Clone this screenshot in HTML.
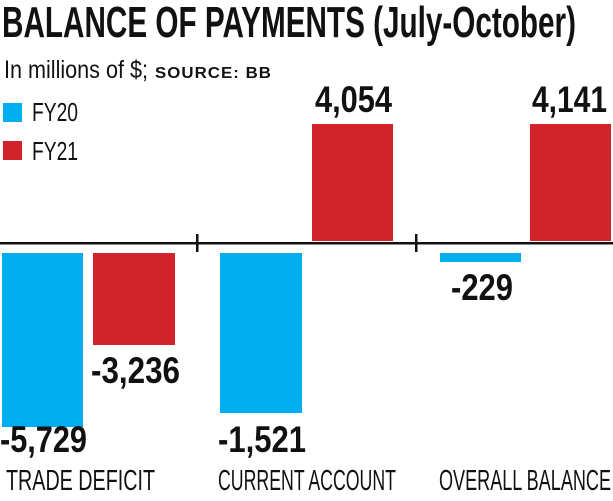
<!DOCTYPE html>
<html><head><meta charset="utf-8"><style>
html,body{margin:0;padding:0;background:#fff;}
svg{display:block}
text{font-family:"Liberation Sans Narrow","Liberation Sans",sans-serif;fill:#111;}
</style></head><body>
<svg width="613" height="501" viewBox="0 0 613 501" xmlns="http://www.w3.org/2000/svg">
<text x="2" y="37" font-size="44" font-weight="bold" textLength="574" lengthAdjust="spacingAndGlyphs">BALANCE OF PAYMENTS (July-October)</text>
<text x="4" y="78" font-size="25" textLength="144" lengthAdjust="spacingAndGlyphs">In millions of $;</text>
<text x="155" y="78" font-size="16" font-weight="bold" textLength="117" lengthAdjust="spacingAndGlyphs" letter-spacing="1">SOURCE: BB</text>
<rect x="3" y="103" width="19" height="19" fill="#00AEEF"/>
<text x="32" y="121" font-size="26" textLength="46" lengthAdjust="spacingAndGlyphs">FY20</text>
<rect x="3" y="141" width="19" height="19" fill="#D2232A"/>
<text x="32" y="160" font-size="26" textLength="46" lengthAdjust="spacingAndGlyphs">FY21</text>
<rect x="2" y="253" width="81" height="174" fill="#00AEEF"/>
<rect x="93" y="253" width="82" height="92" fill="#D2232A"/>
<rect x="220" y="253" width="82" height="160" fill="#00AEEF"/>
<rect x="312" y="124" width="81" height="117" fill="#D2232A"/>
<rect x="440" y="253" width="81" height="9" fill="#00AEEF"/>
<rect x="530" y="124" width="81" height="117" fill="#D2232A"/>
<rect x="0" y="242" width="613" height="2.5" fill="#111"/>
<rect x="196" y="234" width="2.5" height="18" fill="#111"/>
<rect x="415" y="234" width="2.5" height="18" fill="#111"/>
<g font-size="37" font-weight="bold">
<text x="0" y="452" textLength="87" lengthAdjust="spacingAndGlyphs">-5,729</text>
<text x="91" y="383" textLength="89" lengthAdjust="spacingAndGlyphs">-3,236</text>
<text x="218" y="452" textLength="88" lengthAdjust="spacingAndGlyphs">-1,521</text>
<text x="315" y="112" textLength="77" lengthAdjust="spacingAndGlyphs">4,054</text>
<text x="451" y="300" textLength="62" lengthAdjust="spacingAndGlyphs">-229</text>
<text x="532" y="112" textLength="75" lengthAdjust="spacingAndGlyphs">4,141</text>
</g>
<g font-size="29">
<text x="6" y="490" textLength="149" lengthAdjust="spacingAndGlyphs">TRADE DEFICIT</text>
<text x="218" y="490" textLength="178" lengthAdjust="spacingAndGlyphs">CURRENT ACCOUNT</text>
<text x="439" y="490" textLength="172" lengthAdjust="spacingAndGlyphs">OVERALL BALANCE</text>
</g>
</svg>
</body></html>
